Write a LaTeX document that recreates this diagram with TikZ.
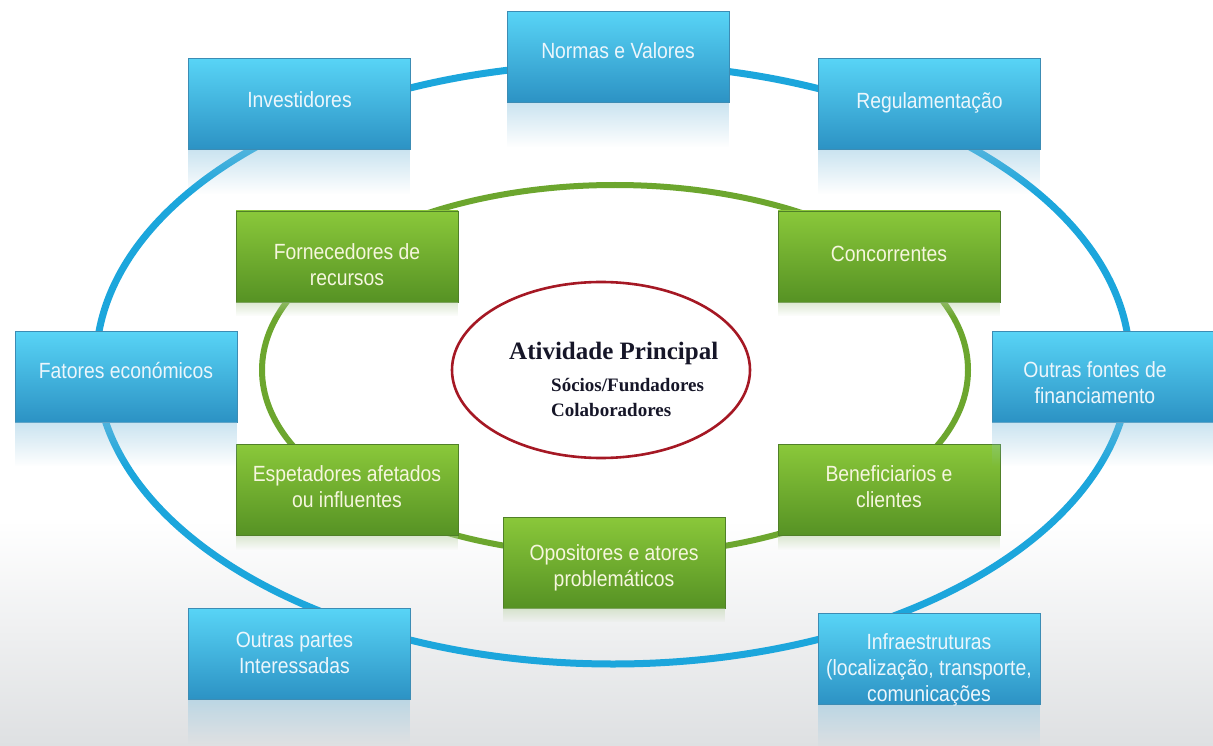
\documentclass[tikz,border=0pt]{standalone}
\usepackage{fontspec}
\setmainfont{Liberation Sans}[FakeStretch=0.88]
\newfontfamily\centerface{Liberation Serif}
\usetikzlibrary{fadings}

\definecolor{bluetop}{RGB}{88,212,246}
\definecolor{bluebot}{RGB}{44,146,196}
\definecolor{blueedge}{RGB}{60,140,180}
\definecolor{greentop}{RGB}{138,200,58}
\definecolor{greenbot}{RGB}{86,146,36}
\definecolor{greenedge}{RGB}{80,128,40}
\definecolor{ringblue}{RGB}{28,166,220}
\definecolor{ringgreen}{RGB}{108,166,46}
\definecolor{ringred}{RGB}{165,24,36}
\definecolor{bluetext}{RGB}{236,246,252}
\definecolor{greentext}{RGB}{246,246,222}
\definecolor{floor}{RGB}{222,224,226}
\definecolor{inktext}{RGB}{22,22,40}

\tikzset{
  card/.style={rectangle, minimum width=222pt, minimum height=91pt,
    inner sep=0pt, line width=0.8pt},
  bluecard/.style={card, draw=blueedge, top color=bluetop, bottom color=bluebot},
  greencard/.style={card, draw=greenedge, top color=greentop, bottom color=greenbot},
  cardtext/.style={align=center, font=\fontsize{22}{26}\selectfont, inner sep=0pt},
  bluelabel/.style={cardtext, text=bluetext},
  greenlabel/.style={cardtext, text=greentext},
  mirror/.style={fill=#1, fill opacity=0.45, path fading=south},
  coretext/.style={font=\centerface\bfseries\fontsize{#1}{#1}\selectfont,
    text=inktext, anchor=base west, inner sep=0pt},
}

\begin{document}
\begin{tikzpicture}[x=1pt,y=-1pt]
\useasboundingbox (0,0) rectangle (1213,746);

% backdrop: white, fading to a light grey floor
\fill[white] (0,0) rectangle (1213,746);
\shade[top color=white, bottom color=floor] (0,520) rectangle (1213,746);

% the three rings
\draw[ringblue, line width=7pt] (613,364) ellipse [x radius=517, y radius=300];
\draw[ringgreen, line width=6pt] (615,370) ellipse [x radius=353, y radius=185];
\draw[ringred, line width=2.6pt, fill=white] (601,370) ellipse [x radius=149, y radius=88];

% core activity
\node[coretext=25] (core) at (509,359) {Atividade Principal};
\node[coretext=19] (partners) at (551,391) {Sócios/Fundadores};
\node[coretext=19] (staff) at (551,416) {Colaboradores};

% outer ring (blue cards)
\node[bluecard] (normas) at (618,57) {};
\node[bluecard] (invest) at (299.5,104) {};
\node[bluecard] (regul) at (929.5,104) {};
\node[bluecard] (fatores) at (126,376.5) {};
\node[bluecard] (fontes) at (1103,376.5) {};
\node[bluecard] (partes) at (299.5,654) {};
\node[bluecard] (infra) at (929,659) {};

% inner ring (green cards)
\node[greencard] (fornec) at (347,256.5) {};
\node[greencard] (concor) at (889,256.5) {};
\node[greencard] (espet) at (347,490) {};
\node[greencard] (benef) at (889,490) {};
\node[greencard] (oposit) at (614,562.5) {};

% soft reflections under the cards
\foreach \c in {normas,invest,regul,fatores,fontes,partes,infra}
  \fill[mirror=bluebot!55!white] (\c.south west) rectangle ++(222,44);
\foreach \c in {fornec,concor,espet,benef,oposit}
  \fill[mirror=greenbot!45!white] (\c.south west) rectangle ++(222,14);

% card captions
\node[bluelabel] (normasT) at ([yshift=6pt]normas.center) {Normas e Valores};
\node[bluelabel] (investT) at ([yshift=4pt]invest.center) {Investidores};
\node[bluelabel] (regulT) at ([yshift=1pt]regul.center) {Regulamentação};
\node[bluelabel] (fatoresT) at ([yshift=6pt]fatores.center) {Fatores económicos};
\node[bluelabel] (fontesT) at ([xshift=-8pt,yshift=-6pt]fontes.center) {Outras fontes de\\financiamento};
\node[bluelabel] (partesT) at ([xshift=-5pt,yshift=1pt]partes.center) {Outras partes\\Interessadas};
\node[bluelabel] (infraT) at ([yshift=-11pt]infra.center) {Infraestruturas\\(localização, transporte,\\comunicações};

\node[greenlabel] (fornecT) at ([yshift=-8pt]fornec.center) {Fornecedores de\\recursos};
\node[greenlabel] (concorT) at ([yshift=3pt]concor.center) {Concorrentes};
\node[greenlabel] (espetT) at ([yshift=3pt]espet.center) {Espetadores afetados\\ou influentes};
\node[greenlabel] (benefT) at ([yshift=3pt]benef.center) {Beneficiarios e\\clientes};
\node[greenlabel] (opositT) at ([yshift=-5pt]oposit.center) {Opositores e atores\\problemáticos};
\end{tikzpicture}
\end{document}
